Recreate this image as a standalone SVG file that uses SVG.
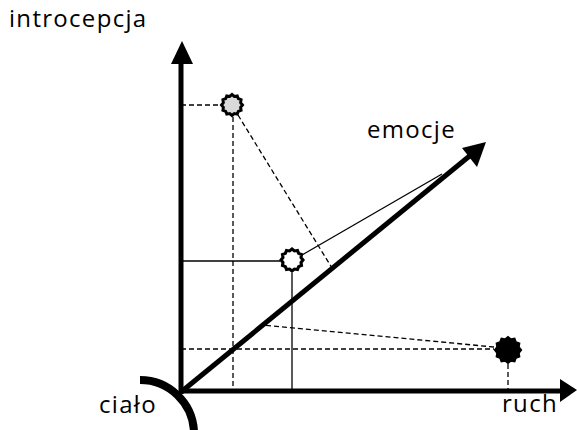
<svg xmlns="http://www.w3.org/2000/svg" width="577" height="430" viewBox="0 0 577 430">
<style>
.lbl{font-family:"Open Sans","Noto Sans",sans-serif;font-size:24px;letter-spacing:1.3px;fill:#000}
.thin{stroke:#000;stroke-width:1.3;fill:none}
.dash{stroke:#000;stroke-width:1.3;fill:none;stroke-dasharray:5,3}
.axis{stroke:#000;stroke-width:5;fill:none}
</style>
<defs>
<polygon id="star" points="10,0 8.21,2.2 8.66,5 6.01,6.01 5,8.66 2.2,8.21 0,10 -2.2,8.21 -5,8.66 -6.01,6.01 -8.66,5 -8.21,2.2 -10,0 -8.21,-2.2 -8.66,-5 -6.01,-6.01 -5,-8.66 -2.2,-8.21 0,-10 2.2,-8.21 5,-8.66 6.01,-6.01 8.66,-5 8.21,-2.2"/>
</defs>
<rect width="577" height="430" fill="#fff"/>
<g id="connectors">
<line class="dash" x1="181" y1="105" x2="221" y2="105"/>
<line class="dash" x1="233" y1="117" x2="233" y2="392"/>
<line class="dash" x1="238" y1="115" x2="332" y2="268"/>
<line class="thin" x1="181" y1="261" x2="280" y2="261"/>
<line class="thin" x1="292" y1="273" x2="292" y2="392"/>
<line class="thin" x1="302" y1="255" x2="442" y2="174"/>
<line class="dash" x1="181" y1="349" x2="494" y2="349"/>
<line class="dash" x1="494" y1="347" x2="262" y2="325"/>
<line class="dash" x1="508" y1="364" x2="508" y2="392"/>
</g>
<g id="axes">
<line class="axis" x1="181" y1="394" x2="181" y2="60"/>
<polygon points="182,41 171,64 193,64" fill="#000"/>
<line class="axis" x1="179" y1="391" x2="562" y2="391"/>
<polygon points="577,390 560,379 560,402" fill="#000"/>
<line class="axis" x1="181" y1="392" x2="472" y2="154"/>
<polygon points="486,142 462,148 477,167" fill="#000"/>
<path d="M140,380 A54,54 0 0 1 194,432" fill="none" stroke="#000" stroke-width="8"/>
</g>
<g id="p-gray"><use href="#star" transform="translate(232,105) scale(1.05)" fill="#d9d9d9" stroke="#000" stroke-width="2.8"/></g>
<g id="p-white"><use href="#star" transform="translate(292,260) scale(1.1)" fill="#fff" stroke="#000" stroke-width="2.8"/></g>
<g id="p-black"><use href="#star" transform="translate(508,350) scale(1.35)" fill="#000" stroke="#000" stroke-width="1"/></g>
<g id="labels">
<text class="lbl" x="9" y="27">introcepcja</text>
<text class="lbl" x="367" y="138">emocje</text>
<text class="lbl" x="99" y="413">ciało</text>
<text class="lbl" x="502" y="412">ruch</text>
</g>
</svg>
